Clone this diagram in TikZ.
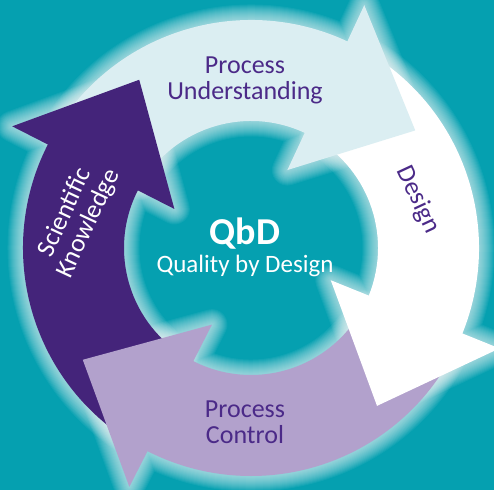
\documentclass[tikz,border=0pt]{standalone}
\usepackage{fontspec}
\setmainfont{Carlito}
\definecolor{qbdteal}{RGB}{5,160,176}
\definecolor{qbdpurple}{RGB}{68,36,122}
\definecolor{qbdlight}{RGB}{219,238,242}
\definecolor{qbdlilac}{RGB}{178,161,204}
\definecolor{qbdtext}{RGB}{75,42,136}
\begin{document}
\begin{tikzpicture}[x=1pt,y=1pt,
		glowline/.style={white,opacity=0.055,line join=round},
		cycletext/.style={text=qbdtext,font=\fontsize{26}{26}\selectfont,align=center,inner sep=0pt},
		centretext/.style={text=white,inner sep=0pt,anchor=base}]
		\clip (0,0) rectangle (494,490);
		\fill[qbdteal] (0,0) rectangle (494,490);
		\begin{scope}[shift={(251,242)}]
		% soft glow round the arrows
		\foreach \a/\b in {150/65, 60/-22, -27/-117, -122/-207}
			\foreach \w in {3,5,...,31}
				\draw[glowline,line width=\w] (\a:228) arc[start angle=\a,end angle=\b,radius=228] -- (\b:268) -- ({\b-29.4}:202) -- (\b:86) -- (\b:127) arc[start angle=\b,end angle=\a,radius=127] -- cycle;
		% shafts, a little past the head base
		\foreach \a/\b/\c in {150/63/qbdlight, 60/-24/white, -27/-119/qbdlilac, -122/-209/qbdpurple}
			\fill[\c] (\a:228) arc[start angle=\a,end angle=\b,radius=228] -- (\b:127) arc[start angle=\b,end angle=\a,radius=127] -- cycle;
		% heads
		\foreach \b/\c in {65/qbdlight, -22/white, -117/qbdlilac, -207/qbdpurple}
			\fill[\c] (\b:86) -- (\b:268) -- ({\b-29.4}:202) -- cycle;
		\end{scope}
		\node[cycletext] (understanding) at (245,410) {Process\\Understanding};
		\node[cycletext,rotate=-65] (design) at (418,290) {Design};
		\node[cycletext] (control) at (245,68) {Process\\Control};
		\node[cycletext,text=white,rotate=65] (knowledge) at (77,272) {Scientific\\Knowledge};
		\node[centretext,font=\fontsize{38}{38}\selectfont\bfseries] (qbd) at (245,245) {QbD};
		\node[centretext,font=\fontsize{25}{25}\selectfont] (qbdname) at (245,218) {Quality by Design};
\end{tikzpicture}
\end{document}
